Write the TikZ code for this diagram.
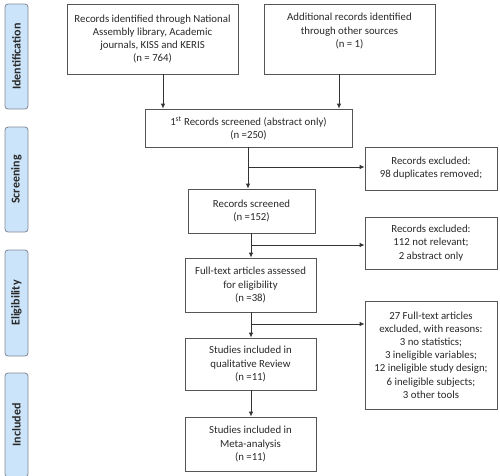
\documentclass[tikz,border=0pt]{standalone}
\usepackage{fontspec}
\setmainfont{Carlito}
\usetikzlibrary{arrows.meta}
\definecolor{sidefill}{RGB}{204,228,250}
\definecolor{sidedraw}{RGB}{128,136,146}
\definecolor{boxdraw}{RGB}{85,85,85}
\definecolor{txt}{RGB}{40,40,40}
\begin{document}
\begin{tikzpicture}[x=1pt,y=-1pt,
  box/.style={draw=boxdraw,line width=0.8pt,align=center,inner sep=0pt,font=\fontsize{10.8}{13.2}\selectfont,text=txt},
  side/.style={draw=sidedraw,fill=sidefill,line width=0.8pt,rounded corners=3pt,rotate=90,inner sep=0pt,minimum height=23pt,font=\fontsize{12}{13}\selectfont\bfseries,text=txt},
  arr/.style={draw=black!80,line width=0.8pt,-{Latex[length=5pt,width=4.5pt]}},
  ln/.style={draw=black!80,line width=0.8pt}]
\useasboundingbox (0,0) rectangle (500,475);
% side labels
\node[side,minimum width=105pt] (sid) at (16.5,56.5) {Identification};
\node[side,minimum width=105pt] (ssc) at (16.5,179.5) {Screening};
\node[side,minimum width=106pt] (sel) at (16.5,303) {Eligibility};
\node[side,minimum width=104pt] (sin) at (16.5,425) {Included};
% main boxes
\node[box,minimum width=171pt,minimum height=70pt] (b1) at (152.5,39) {Records identified through National\\Assembly library, Academic\\journals, KISS and KERIS\\(n = 764)};
\node[box,minimum width=171pt,minimum height=70pt] (b2) at (349.5,39) {Additional records identified\\through other sources\\(n = 1)\\\strut};
\node[box,minimum width=207pt,minimum height=38pt] (b3) at (248.5,128) {1\textsuperscript{st} Records screened (abstract only)\\(n =250)};
\node[box,minimum width=127pt,minimum height=44pt] (b4) at (251.5,211) {Records screened\\(n =152)};
\node[box,minimum width=131pt,minimum height=54pt] (b5) at (250.5,285) {Full-text articles assessed\\for eligibility\\(n =38)};
\node[box,minimum width=131pt,minimum height=52pt] (b6) at (250.5,364) {Studies included in\\qualitative Review\\(n =11)};
\node[box,minimum width=131pt,minimum height=54pt] (b7) at (250.5,444) {Studies included in\\Meta-analysis\\(n =11)};
% exclusion boxes
\node[box,minimum width=132pt,minimum height=43pt] (e1) at (431,168.5) {Records excluded:\\98 duplicates removed;};
\node[box,minimum width=132pt,minimum height=52pt] (e2) at (431,243) {Records excluded:\\112 not relevant;\\2 abstract only};
\node[box,minimum width=132pt,minimum height=108pt] (e3) at (431,355) {27 Full-text articles\\excluded, with reasons:\\3 no statistics;\\3 ineligible variables;\\12 ineligible study design;\\6 ineligible subjects;\\3 other tools};
% connectors
\coordinate (c1) at (163,0);
\coordinate (c2) at (339,0);
\coordinate (c3) at (248,0);
\coordinate (c4) at (251,0);
\draw[arr] (b1.south -| c1) -- (b3.north -| c1);
\draw[arr] (b2.south -| c2) -- (b3.north -| c2);
\draw[arr] (b3.south -| c3) -- (b4.north -| c3);
\draw[arr] (b4.south -| c4) -- (b5.north -| c4);
\draw[arr] (b5.south -| c4) -- (b6.north -| c4);
\draw[arr] (b6.south -| c4) -- (b7.north -| c4);
\coordinate (h1) at (248,167);
\coordinate (h2) at (251,245);
\coordinate (h3) at (251,324);
\draw[arr] (h1) -- (h1 -| e1.west);
\draw[arr] (h2) -- (h2 -| e2.west);
\draw[arr] (h3) -- (h3 -| e3.west);
\end{tikzpicture}
\end{document}
